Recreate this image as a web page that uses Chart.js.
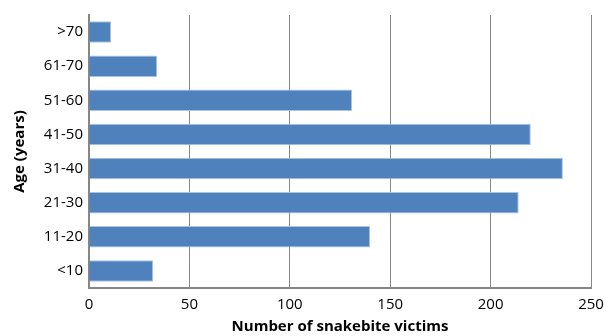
<!DOCTYPE html>
<html>
<head>
<meta charset="utf-8">
<script src="https://cdn.jsdelivr.net/npm/chart.js@4/dist/chart.umd.min.js"></script>
<style>
  html, body { margin: 0; padding: 0; background: #fff; }
  #wrap { width: 606px; height: 336px; position: relative; }
</style>
</head>
<body>
<div id="wrap"><canvas id="chart"></canvas></div>
<script>
const ageGroups = ['>70', '61-70', '51-60', '41-50', '31-40', '21-30', '11-20', '<10'];
const victims = [11, 34, 131, 220, 236, 214, 140, 32];
const xTicks = [0, 50, 100, 150, 200, 250];

const FONT = "'Open Sans', 'Liberation Sans', sans-serif";
const AXIS_GREY = '#868686';

const config = {
  type: 'bar',
  data: {
    labels: ageGroups,
    datasets: [{
      label: 'Number of snakebite victims',
      data: victims,
      backgroundColor: '#4F81BD',
      borderColor: '#A9C3E3',
      borderWidth: 1,
      borderSkipped: 'start',
      categoryPercentage: 1,
      barPercentage: 0.63
    }]
  },
  options: {
    indexAxis: 'y',
    responsive: true,
    maintainAspectRatio: false,
    animation: false,
    layout: { padding: { top: 13, right: 15, left: 0, bottom: 0 } },
    plugins: {
      legend: { display: false },
      tooltip: { enabled: false }
    },
    scales: {
      x: {
        min: 0,
        max: 250,
        afterBuildTicks: (axis) => { axis.ticks = xTicks.map(v => ({ value: v })); },
        afterFit: (axis) => {
          axis.height = 48;
          axis.paddingLeft = 0;
          axis.paddingRight = 0;
        },
        grid: { color: AXIS_GREY, lineWidth: 1, drawTicks: false },
        border: { color: AXIS_GREY, width: 2 },
        ticks: { color: '#000', padding: 8, font: { family: FONT, size: 15 } },
        title: {
          display: true,
          text: 'Number of snakebite victims',
          color: '#000',
          padding: { top: 3, bottom: 0 },
          font: { family: FONT, size: 15, weight: 'bold' }
        }
      },
      y: {
        afterFit: (axis) => { axis.width = 89; },
        grid: { display: false, drawTicks: false },
        border: { color: AXIS_GREY, width: 2 },
        ticks: { color: '#000', padding: 6, font: { family: FONT, size: 15 } },
        title: {
          display: true,
          text: 'Age (years)',
          color: '#000',
          padding: { top: 11, bottom: 4 },
          font: { family: FONT, size: 15, weight: 'bold' }
        }
      }
    }
  }
};

new Chart(document.getElementById('chart'), config);
</script>
</body>
</html>
